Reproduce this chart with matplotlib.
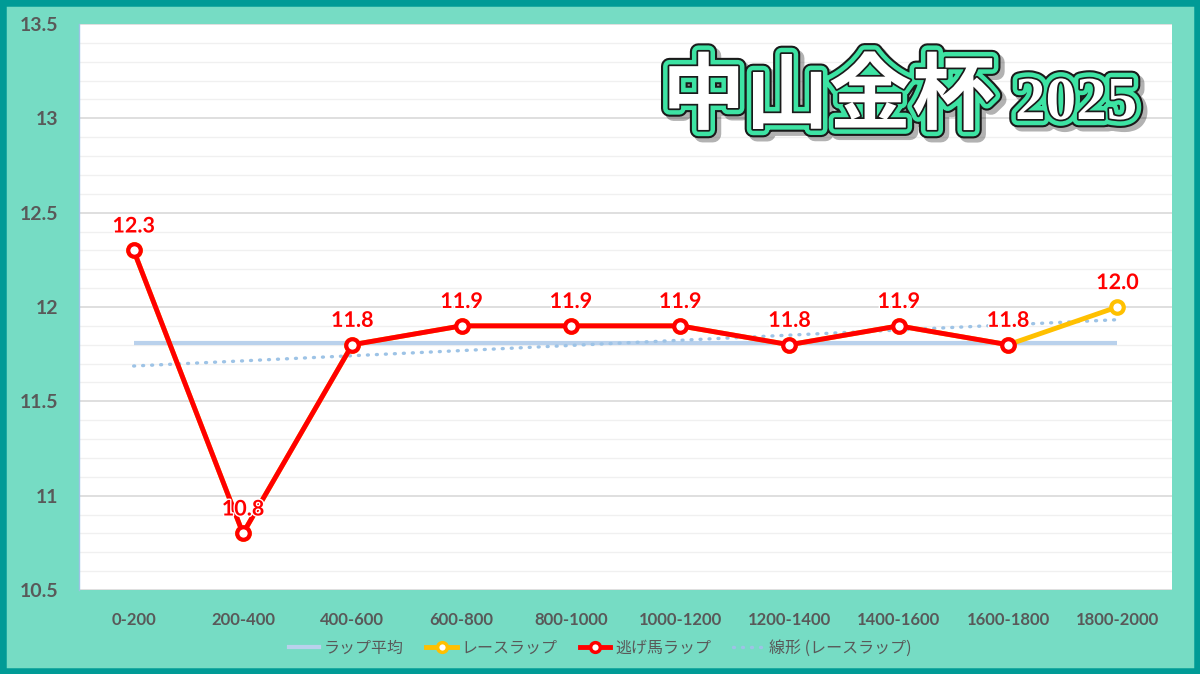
import matplotlib
matplotlib.use("Agg")
import matplotlib.pyplot as plt
import matplotlib.patheffects as pe
from matplotlib.patches import Rectangle
from matplotlib.lines import Line2D
import numpy as np

categories = ["0-200", "200-400", "400-600", "600-800", "800-1000", "1000-1200",
              "1200-1400", "1400-1600", "1600-1800", "1800-2000"]
race_lap = [12.3, 10.8, 11.8, 11.9, 11.9, 11.9, 11.8, 11.9, 11.8, 12.0]
leader_lap = [12.3, 10.8, 11.8, 11.9, 11.9, 11.9, 11.8, 11.9, 11.8]
avg_label = "ラップ平均"
race_label = "レースラップ"
leader_label = "逃げ馬ラップ"
trend_label = "線形 (レースラップ)"
title_main = "中山金杯"
title_year = "2025"

plt.rcParams['font.family'] = ['Noto Sans CJK JP', 'DejaVu Sans']

MINT = "#76DCC4"
TEAL = "#009B96"
GRAY = "#595959"

fig = plt.figure(figsize=(12, 6.74), dpi=100)
fig.patch.set_facecolor(MINT)
fig.patches.append(Rectangle((0, 0), 1, 1, transform=fig.transFigure, fill=False,
                             edgecolor=TEAL, linewidth=9, zorder=10))

ax = fig.add_axes([79/1200, 1-590/674, (1172-79)/1200, (590-24)/674])
ax.set_facecolor("white")

x = np.arange(len(categories))
n = len(race_lap)
avg = float(np.mean(race_lap))
coef = np.polyfit(x, race_lap, 1)
trend = np.polyval(coef, x)

ax.plot(x, [avg]*n, color="#B9D1EC", lw=3.0, zorder=2, solid_capstyle='butt')
ax.plot(x, trend, color="#9DC3E6", lw=2.4, linestyle=(0, (0.3, 2.4)),
        dash_capstyle='round', zorder=3)
ax.plot(x, race_lap, color="#FFC000", lw=3.5, marker='o', markersize=9,
        markerfacecolor='white', markeredgecolor="#FFC000", markeredgewidth=3, zorder=4)
ax.plot(x[:len(leader_lap)], leader_lap, color="#FF0000", lw=3.5, marker='o', markersize=9,
        markerfacecolor='white', markeredgecolor="#FF0000", markeredgewidth=3, zorder=5)

for xi, v in zip(x, race_lap):
    ax.annotate(f"{v:.1f}", (xi, v), xytext=(0, 10), textcoords='offset points',
                ha='center', va='bottom', color="#FF0000", fontsize=15.5, fontweight='bold',
                family=['Lato', 'DejaVu Sans'], zorder=6,
                path_effects=[pe.withStroke(linewidth=2, foreground='white')])

ax.set_xlim(-0.5, n-0.5)
ax.set_ylim(10.5, 13.5)
ax.set_yticks(np.arange(10.5, 13.51, 0.5))
ax.set_yticklabels(["10.5", "11", "11.5", "12", "12.5", "13", "13.5"])
ax.set_yticks(np.arange(10.5, 13.51, 0.1), minor=True)
ax.set_xticks(x)
ax.set_xticklabels(categories)
for lab in ax.get_xticklabels():
    lab.set_family(['Lato', 'DejaVu Sans'])
    lab.set_fontweight('bold')
    lab.set_color(GRAY)
    lab.set_fontsize(12)
for lab in ax.get_yticklabels():
    lab.set_family(['Lato', 'DejaVu Sans'])
    lab.set_fontweight('bold')
    lab.set_color(GRAY)
    lab.set_fontsize(14)
ax.tick_params(axis='both', length=0)
ax.tick_params(axis='y', which='minor', length=0)
ax.tick_params(axis='y', pad=15)
ax.tick_params(axis='x', pad=16)
ax.grid(axis='y', which='major', color="#D9D9D9", lw=1.2, zorder=0)
ax.grid(axis='y', which='minor', color="#F0F0F0", lw=1.0, zorder=0)
ax.set_axisbelow(True)
for s in ['top', 'right', 'bottom']:
    ax.spines[s].set_visible(False)
ax.spines['left'].set_color("#9DC3E6")
ax.spines['left'].set_linewidth(1)

effects = [pe.Stroke(offset=(3, -3), linewidth=12, foreground='#000000', alpha=0.3),
           pe.Stroke(linewidth=12, foreground='#1a1a1a'),
           pe.Stroke(linewidth=9, foreground='#3DE3A3'),
           pe.Stroke(linewidth=2.5, foreground='#1a1a1a'),
           pe.Normal()]
fig.text(662/1200, 1-98/674, title_main, fontsize=60, fontweight='bold',
         color='white', ha='left', va='center', family=['Noto Sans CJK JP'],
         path_effects=effects, zorder=20)
fig.text(1015/1200, 1-104/674, title_year, fontsize=44, fontweight='bold',
         color='white', ha='left', va='center', family=['Liberation Serif'],
         path_effects=effects, zorder=20)

handles = [
    Line2D([], [], color="#B9D1EC", lw=3.0),
    Line2D([], [], color="#FFC000", lw=3.5, marker='o', markersize=7,
           markerfacecolor='white', markeredgecolor="#FFC000", markeredgewidth=2.5),
    Line2D([], [], color="#FF0000", lw=3.5, marker='o', markersize=7,
           markerfacecolor='white', markeredgecolor="#FF0000", markeredgewidth=2.5),
    Line2D([], [], color="#9DC3E6", lw=2.4, linestyle=(0, (0.3, 2.4)), dash_capstyle='round'),
]
leg = fig.legend(handles, [avg_label, race_label, leader_label, trend_label],
                 loc='center', bbox_to_anchor=(0.5, 1-648/674), ncol=4, frameon=False,
                 fontsize=11.5, handlelength=1.9, handletextpad=0.3, columnspacing=1.4)
for t in leg.get_texts():
    t.set_color(GRAY)

fig.savefig("out.png", dpi=100, facecolor=fig.get_facecolor())
